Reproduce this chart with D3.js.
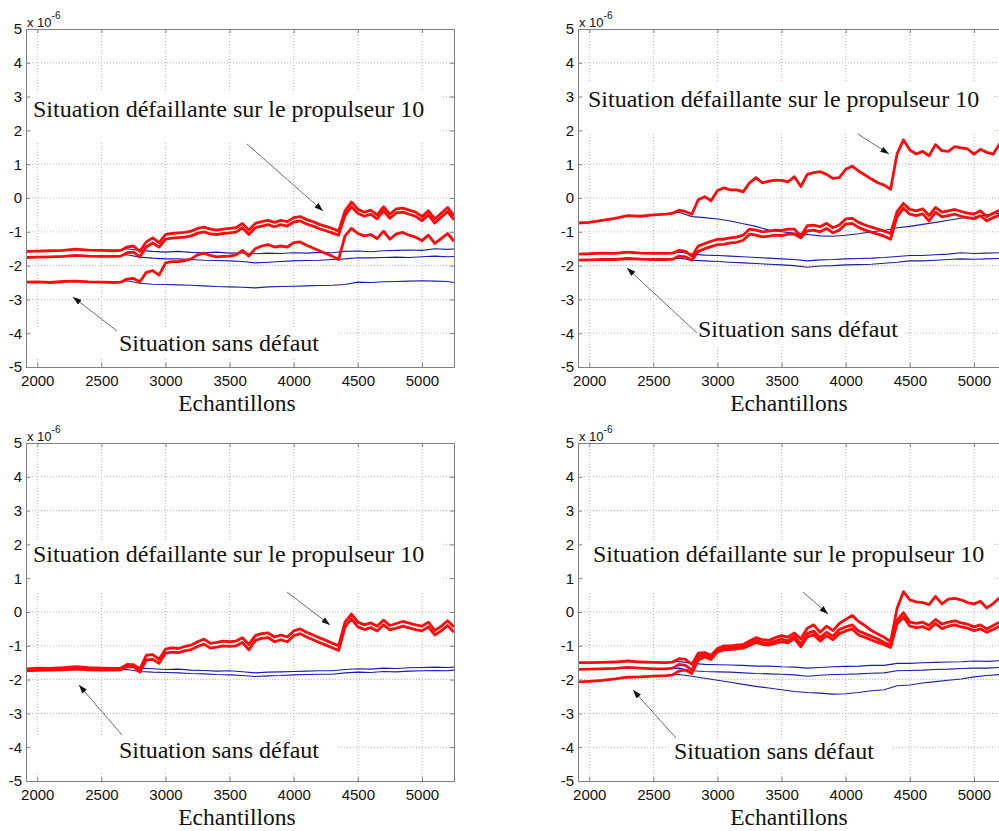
<!DOCTYPE html>
<html><head><meta charset="utf-8">
<script src="https://cdn.jsdelivr.net/npm/d3@7"></script>
<style>body{margin:0;background:#fff}svg{display:block}</style>
</head><body>
<svg id="c" width="999" height="831"></svg>
<script>
// ---------- DATA ----------
const xDomain = [1912, 5250];
const yDomain = [-5, 5];
const xTicks = [2000, 2500, 3000, 3500, 4000, 4500, 5000];
const yTicks = [-5, -4, -3, -2, -1, 0, 1, 2, 3, 4, 5];
const xLabel = "Echantillons";
const faultLabel = "Situation défaillante sur le propulseur 10";
const okLabel = "Situation sans défaut";
const exponentBase = "x 10";
const exponentPow = "-6";

const xRed = [1912,2000,2100,2200,2300,2400,2500,2600,2650,2700,2750,2800,2850,2900,2950,3000,3050,3100,3150,3200,3250,3300,3350,3400,3450,3500,3550,3600,3650,3700,3750,3800,3850,3900,3950,4000,4050,4100,4150,4200,4250,4300,4350,4400,4450,4500,4550,4600,4650,4700,4750,4800,4850,4900,4950,5000,5050,5100,5150,5200,5250];
const xBlue = [1912,2000,2100,2200,2300,2400,2500,2600,2700,2800,2900,3000,3100,3200,3300,3400,3500,3600,3700,3800,3900,4000,4100,4200,4300,4400,4500,4600,4700,4800,4900,5000,5100,5200,5250];

// Panel 1 (top-left)
const p1Red1 = [-1.58,-1.57,-1.56,-1.55,-1.51,-1.54,-1.55,-1.56,-1.55,-1.45,-1.42,-1.58,-1.30,-1.18,-1.32,-1.08,-1.05,-1.03,-1.02,-0.98,-0.90,-0.86,-0.92,-0.95,-0.92,-0.90,-0.88,-0.75,-0.95,-0.75,-0.70,-0.66,-0.72,-0.66,-0.70,-0.58,-0.55,-0.64,-0.70,-0.78,-0.84,-0.90,-0.98,-0.38,-0.12,-0.33,-0.42,-0.36,-0.50,-0.26,-0.48,-0.32,-0.30,-0.36,-0.42,-0.55,-0.38,-0.62,-0.45,-0.28,-0.52];
const p1Red2 = [-1.76,-1.75,-1.74,-1.73,-1.70,-1.72,-1.73,-1.73,-1.72,-1.62,-1.60,-1.74,-1.45,-1.33,-1.45,-1.22,-1.19,-1.17,-1.16,-1.12,-1.04,-1.00,-1.06,-1.08,-1.05,-1.03,-1.01,-0.88,-1.08,-0.88,-0.83,-0.79,-0.85,-0.79,-0.83,-0.71,-0.68,-0.77,-0.83,-0.91,-0.97,-1.03,-1.10,-0.52,-0.26,-0.45,-0.54,-0.48,-0.62,-0.38,-0.60,-0.44,-0.42,-0.48,-0.54,-0.67,-0.50,-0.74,-0.57,-0.40,-0.64];
const p1Red3 = [-2.49,-2.48,-2.50,-2.47,-2.46,-2.48,-2.49,-2.50,-2.49,-2.40,-2.38,-2.48,-2.20,-2.15,-2.28,-1.92,-1.88,-1.88,-1.85,-1.80,-1.68,-1.63,-1.70,-1.74,-1.73,-1.72,-1.68,-1.55,-1.72,-1.50,-1.42,-1.38,-1.45,-1.42,-1.45,-1.32,-1.30,-1.40,-1.48,-1.56,-1.64,-1.72,-1.82,-1.12,-0.90,-1.05,-1.12,-1.08,-1.20,-0.98,-1.22,-1.06,-1.02,-1.10,-1.16,-1.26,-1.10,-1.34,-1.20,-1.05,-1.28];
const p1Blue1 = [-1.58,-1.57,-1.56,-1.55,-1.51,-1.54,-1.55,-1.56,-1.50,-1.55,-1.58,-1.60,-1.58,-1.61,-1.62,-1.60,-1.63,-1.62,-1.65,-1.63,-1.64,-1.62,-1.63,-1.61,-1.62,-1.58,-1.57,-1.59,-1.56,-1.55,-1.54,-1.55,-1.50,-1.52,-1.51];
const p1Blue2 = [-1.76,-1.75,-1.74,-1.73,-1.70,-1.72,-1.73,-1.73,-1.68,-1.75,-1.78,-1.80,-1.80,-1.82,-1.84,-1.85,-1.86,-1.88,-1.92,-1.90,-1.88,-1.86,-1.85,-1.84,-1.82,-1.80,-1.77,-1.77,-1.76,-1.75,-1.76,-1.74,-1.72,-1.74,-1.73];
const p1Blue3 = [-2.49,-2.48,-2.50,-2.47,-2.46,-2.48,-2.49,-2.50,-2.45,-2.52,-2.55,-2.56,-2.57,-2.58,-2.60,-2.62,-2.63,-2.64,-2.66,-2.63,-2.62,-2.61,-2.60,-2.59,-2.58,-2.56,-2.49,-2.50,-2.48,-2.47,-2.46,-2.45,-2.46,-2.47,-2.50];

// Panel 2 (top-right)
const p2Red1 = [-0.74,-0.72,-0.66,-0.60,-0.52,-0.54,-0.50,-0.48,-0.45,-0.36,-0.40,-0.48,-0.05,0.04,-0.08,0.22,0.30,0.24,0.24,0.18,0.45,0.60,0.45,0.50,0.53,0.52,0.48,0.63,0.34,0.70,0.75,0.78,0.70,0.58,0.60,0.85,0.94,0.80,0.68,0.56,0.45,0.38,0.26,1.30,1.72,1.42,1.30,1.38,1.25,1.58,1.40,1.38,1.52,1.48,1.45,1.30,1.44,1.35,1.30,1.60,1.62];
const p2Red2 = [-1.66,-1.65,-1.63,-1.64,-1.60,-1.63,-1.64,-1.64,-1.63,-1.55,-1.58,-1.72,-1.42,-1.35,-1.28,-1.22,-1.22,-1.18,-1.16,-1.10,-0.92,-0.95,-1.00,-0.98,-0.95,-0.96,-0.92,-0.92,-1.12,-0.82,-0.80,-0.85,-0.75,-0.88,-0.80,-0.62,-0.60,-0.72,-0.80,-0.86,-0.92,-0.98,-1.05,-0.40,-0.16,-0.34,-0.38,-0.32,-0.52,-0.28,-0.42,-0.38,-0.34,-0.40,-0.45,-0.48,-0.38,-0.55,-0.45,-0.36,-0.32];
const p2Red3 = [-1.84,-1.83,-1.82,-1.82,-1.79,-1.81,-1.82,-1.82,-1.81,-1.72,-1.74,-1.84,-1.58,-1.50,-1.44,-1.38,-1.37,-1.33,-1.31,-1.25,-1.07,-1.10,-1.15,-1.13,-1.10,-1.11,-1.07,-1.07,-1.18,-0.97,-0.95,-1.00,-0.90,-1.03,-0.95,-0.77,-0.75,-0.87,-0.95,-1.01,-1.07,-1.13,-1.22,-0.56,-0.30,-0.48,-0.52,-0.47,-0.68,-0.42,-0.56,-0.52,-0.48,-0.54,-0.58,-0.62,-0.52,-0.68,-0.58,-0.50,-0.46];
const p2Blue1 = [-0.74,-0.72,-0.66,-0.60,-0.52,-0.54,-0.50,-0.48,-0.42,-0.55,-0.58,-0.62,-0.68,-0.76,-0.84,-0.95,-1.00,-1.04,-1.08,-1.12,-1.13,-1.10,-1.06,-1.00,-0.96,-0.88,-0.84,-0.78,-0.72,-0.66,-0.60,-0.56,-0.50,-0.45,-0.42];
const p2Blue2 = [-1.66,-1.65,-1.63,-1.64,-1.60,-1.63,-1.64,-1.64,-1.60,-1.66,-1.69,-1.70,-1.72,-1.74,-1.76,-1.78,-1.80,-1.82,-1.86,-1.83,-1.82,-1.80,-1.79,-1.78,-1.76,-1.73,-1.70,-1.70,-1.68,-1.66,-1.62,-1.64,-1.63,-1.62,-1.63];
const p2Blue3 = [-1.84,-1.83,-1.82,-1.82,-1.79,-1.81,-1.82,-1.82,-1.78,-1.84,-1.86,-1.88,-1.90,-1.92,-1.94,-1.96,-1.98,-2.00,-2.05,-2.01,-2.00,-1.98,-1.97,-1.96,-1.93,-1.90,-1.86,-1.86,-1.84,-1.82,-1.80,-1.81,-1.80,-1.79,-1.80];

// Panel 3 (bottom-left)
const p3Red1 = [-1.68,-1.66,-1.67,-1.65,-1.62,-1.65,-1.66,-1.67,-1.66,-1.55,-1.56,-1.68,-1.28,-1.26,-1.40,-1.10,-1.06,-1.08,-1.02,-0.98,-0.88,-0.80,-0.93,-0.90,-0.86,-0.88,-0.86,-0.76,-0.96,-0.70,-0.64,-0.62,-0.74,-0.68,-0.74,-0.56,-0.50,-0.60,-0.68,-0.76,-0.84,-0.92,-1.00,-0.30,-0.06,-0.30,-0.38,-0.32,-0.42,-0.24,-0.40,-0.34,-0.28,-0.33,-0.38,-0.42,-0.30,-0.55,-0.42,-0.26,-0.44];
const p3Red2 = [-1.74,-1.73,-1.72,-1.71,-1.69,-1.71,-1.72,-1.72,-1.71,-1.62,-1.62,-1.78,-1.42,-1.40,-1.52,-1.22,-1.19,-1.20,-1.15,-1.11,-1.02,-0.95,-1.07,-1.04,-1.00,-1.02,-1.00,-0.90,-1.12,-0.84,-0.78,-0.76,-0.88,-0.82,-0.88,-0.70,-0.64,-0.74,-0.82,-0.90,-0.98,-1.06,-1.14,-0.45,-0.20,-0.44,-0.52,-0.46,-0.56,-0.38,-0.53,-0.48,-0.42,-0.47,-0.52,-0.56,-0.44,-0.68,-0.56,-0.40,-0.60];
const p3Blue1 = [-1.68,-1.66,-1.67,-1.65,-1.62,-1.65,-1.66,-1.67,-1.62,-1.66,-1.68,-1.70,-1.69,-1.72,-1.73,-1.75,-1.74,-1.77,-1.80,-1.78,-1.77,-1.76,-1.75,-1.74,-1.74,-1.70,-1.68,-1.69,-1.66,-1.67,-1.65,-1.64,-1.63,-1.64,-1.63];
const p3Blue2 = [-1.74,-1.73,-1.72,-1.71,-1.69,-1.71,-1.72,-1.72,-1.70,-1.76,-1.78,-1.79,-1.80,-1.82,-1.83,-1.85,-1.86,-1.88,-1.91,-1.89,-1.88,-1.86,-1.85,-1.84,-1.84,-1.80,-1.78,-1.79,-1.76,-1.77,-1.75,-1.74,-1.73,-1.74,-1.72];

// Panel 4 (bottom-right)
const p4Red1 = [-1.50,-1.50,-1.49,-1.48,-1.45,-1.48,-1.49,-1.50,-1.48,-1.38,-1.40,-1.55,-1.22,-1.20,-1.28,-1.08,-1.00,-1.00,-0.98,-0.96,-0.86,-0.76,-0.82,-0.84,-0.76,-0.70,-0.74,-0.62,-0.80,-0.48,-0.38,-0.60,-0.42,-0.55,-0.34,-0.22,-0.10,-0.28,-0.40,-0.55,-0.65,-0.75,-0.88,0.10,0.60,0.36,0.30,0.28,0.22,0.46,0.24,0.38,0.40,0.36,0.28,0.24,0.32,0.12,0.25,0.42,0.40];
const p4Red2 = [-1.70,-1.69,-1.68,-1.67,-1.64,-1.66,-1.68,-1.68,-1.66,-1.55,-1.58,-1.72,-1.32,-1.26,-1.35,-1.14,-1.06,-1.06,-1.04,-1.02,-0.94,-0.84,-0.90,-0.92,-0.86,-0.80,-0.85,-0.72,-0.95,-0.64,-0.56,-0.76,-0.60,-0.72,-0.52,-0.44,-0.38,-0.56,-0.64,-0.72,-0.80,-0.90,-0.98,-0.25,-0.02,-0.30,-0.34,-0.30,-0.40,-0.22,-0.36,-0.30,-0.26,-0.32,-0.36,-0.44,-0.38,-0.50,-0.40,-0.30,-0.28];
const p4Red3 = [-2.07,-2.05,-2.02,-1.98,-1.93,-1.92,-1.90,-1.88,-1.86,-1.74,-1.72,-1.82,-1.42,-1.33,-1.40,-1.18,-1.12,-1.11,-1.09,-1.07,-0.99,-0.90,-0.96,-0.98,-0.93,-0.88,-0.91,-0.78,-1.03,-0.74,-0.67,-0.86,-0.70,-0.82,-0.64,-0.56,-0.50,-0.68,-0.75,-0.83,-0.90,-0.97,-1.05,-0.36,-0.15,-0.42,-0.46,-0.43,-0.52,-0.34,-0.49,-0.42,-0.38,-0.44,-0.48,-0.55,-0.50,-0.60,-0.52,-0.42,-0.40];
const p4Blue1 = [-1.50,-1.50,-1.49,-1.48,-1.45,-1.48,-1.49,-1.50,-1.46,-1.52,-1.55,-1.56,-1.57,-1.58,-1.60,-1.60,-1.62,-1.63,-1.66,-1.64,-1.62,-1.61,-1.60,-1.58,-1.58,-1.52,-1.52,-1.50,-1.49,-1.48,-1.47,-1.45,-1.46,-1.44,-1.45];
const p4Blue2 = [-1.70,-1.69,-1.68,-1.67,-1.64,-1.66,-1.68,-1.68,-1.66,-1.74,-1.76,-1.77,-1.78,-1.80,-1.82,-1.83,-1.84,-1.86,-1.90,-1.87,-1.85,-1.84,-1.83,-1.81,-1.80,-1.74,-1.73,-1.72,-1.70,-1.69,-1.67,-1.66,-1.66,-1.64,-1.65];
const p4Blue3 = [-2.07,-2.05,-2.02,-1.98,-1.93,-1.92,-1.90,-1.88,-1.85,-1.90,-1.96,-2.02,-2.08,-2.14,-2.20,-2.25,-2.30,-2.35,-2.38,-2.40,-2.43,-2.42,-2.38,-2.33,-2.30,-2.18,-2.16,-2.10,-2.06,-2.02,-1.98,-1.92,-1.88,-1.85,-1.84];

// ---------- LAYOUT ----------
const W = 428, H = 338;
const panels = [
  {left: 26, top: 29, red: [p1Red1, p1Red2, p1Red3], blue: [p1Blue1, p1Blue2, p1Blue3],
   fault: {tx: 7, ty: 88, box: [4, 61, 417, 114], arrow: [221, 115, 297, 182]},
   ok: {tx: 93, ty: 322, box: [4, 299, 311, 328], arrow: [91, 302, 47, 268]}},
  {left: 578, top: 29, red: [p2Red1, p2Red2, p2Red3], blue: [p2Blue1, p2Blue2, p2Blue3],
   fault: {tx: 10, ty: 78, box: [5, 54, 415, 104], arrow: [280, 105, 311, 125]},
   ok: {tx: 120, ty: 308, box: [116, 286, 327, 316], arrow: [119, 304, 49, 239]}},
  {left: 26, top: 443, red: [p3Red1, p3Red2], blue: [p3Blue1, p3Blue2],
   fault: {tx: 7, ty: 119, box: [4, 98, 417, 148], arrow: [261, 149, 304, 182]},
   ok: {tx: 93, ty: 315, box: [4, 294, 311, 329], arrow: [96, 292, 53, 242]}},
  {left: 578, top: 443, red: [p4Red1, p4Red2, p4Red3], blue: [p4Blue1, p4Blue2, p4Blue3],
   fault: {tx: 15, ty: 119, box: [5, 98, 415, 148], arrow: [225, 149, 250, 171]},
   ok: {tx: 96, ty: 316, box: [92, 295, 314, 329], arrow: [98, 295, 55, 247]}}
];

const svg = d3.select("#c");
const defs = svg.append("defs");
defs.append("marker").attr("id", "ah").attr("viewBox", "0 0 10 7")
  .attr("refX", 10).attr("refY", 3.5).attr("markerWidth", 9).attr("markerHeight", 6)
  .attr("markerUnits", "userSpaceOnUse").attr("orient", "auto")
  .append("path").attr("d", "M0,0 L10,3.5 L0,7 Z").attr("fill", "#111");

const sans = "'Liberation Sans', Arial, Helvetica, sans-serif";
const serif = "'Liberation Serif', 'Times New Roman', serif";
const axisColor = "#808080";
const fmt = d => String(d);

panels.forEach((p, i) => {
  const g = svg.append("g").attr("transform", `translate(${p.left},${p.top})`);
  const x = d3.scaleLinear().domain(xDomain).range([0, W]);
  const y = d3.scaleLinear().domain(yDomain).range([H, 0]);

  defs.append("clipPath").attr("id", "clip" + i).append("rect")
    .attr("x", 0).attr("y", 0).attr("width", W).attr("height", H);

  // grid
  const grid = g.append("g");
  grid.selectAll("line.gx").data(xTicks).join("line")
    .attr("x1", d => x(d)).attr("x2", d => x(d)).attr("y1", 0).attr("y2", H)
    .attr("stroke", "#b4b4b4").attr("stroke-dasharray", "1,2").attr("stroke-width", 1);
  grid.selectAll("line.gy").data(yTicks.slice(1, -1)).join("line")
    .attr("class", "gy")
    .attr("x1", 0).attr("x2", W).attr("y1", d => y(d)).attr("y2", d => y(d))
    .attr("stroke", "#b4b4b4").attr("stroke-dasharray", "1,2").attr("stroke-width", 1);

  // white label boxes
  [p.fault, p.ok].forEach(a => {
    g.append("rect").attr("x", a.box[0]).attr("y", a.box[1])
      .attr("width", a.box[2] - a.box[0]).attr("height", a.box[3] - a.box[1])
      .attr("fill", "#fff");
  });

  // data
  const data = g.append("g").attr("clip-path", `url(#clip${i})`);
  const lineB = d3.line().x((d, k) => x(xBlue[k])).y(d => y(d));
  const lineR = d3.line().x((d, k) => x(xRed[k])).y(d => y(d));
  p.blue.forEach(s => data.append("path").attr("d", lineB(s))
    .attr("fill", "none").attr("stroke", "#1c1ca8").attr("stroke-width", 1.1));
  p.red.forEach(s => data.append("path").attr("d", lineR(s))
    .attr("fill", "none").attr("stroke", "#ff0a0a").attr("stroke-width", 2.8)
    .attr("stroke-linejoin", "round"));

  // axes
  const ax = g.append("g").attr("transform", `translate(0,${H})`)
    .call(d3.axisBottom(x).tickValues(xTicks).tickSize(-4).tickPadding(8).tickFormat(fmt));
  const ay = g.append("g")
    .call(d3.axisLeft(y).tickValues(yTicks).tickSize(-4).tickPadding(4).tickFormat(fmt));
  const axt = g.append("g").call(d3.axisTop(x).tickValues(xTicks).tickSize(-4).tickFormat(""));
  const ayr = g.append("g").attr("transform", `translate(${W},0)`)
    .call(d3.axisRight(y).tickValues(yTicks).tickSize(-4).tickFormat(""));
  [ax, ay, axt, ayr].forEach(a => {
    a.select(".domain").attr("stroke", axisColor);
    a.selectAll(".tick line").attr("stroke", axisColor);
    a.selectAll("text").attr("font-family", sans).attr("font-size", 15).attr("fill", "#111");
  });
  ax.selectAll("text").attr("dy", "0.71em");

  // exponent
  const ex = g.append("text").attr("x", 1).attr("y", -2)
    .attr("font-family", sans).attr("font-size", 13).attr("fill", "#111");
  ex.append("tspan").text(exponentBase);
  ex.append("tspan").attr("dy", -8).attr("font-size", 10).text(exponentPow);

  // x label
  g.append("text").attr("x", W / 2 - 3).attr("y", H + 44).attr("text-anchor", "middle")
    .attr("font-family", serif).attr("font-size", 23.5).attr("fill", "#111").text(xLabel);

  // annotations
  [[p.fault, faultLabel], [p.ok, okLabel]].forEach(([a, t]) => {
    g.append("text").attr("x", a.tx).attr("y", a.ty)
      .attr("font-family", serif).attr("font-size", 24).attr("fill", "#111").text(t);
    g.append("line").attr("x1", a.arrow[0]).attr("y1", a.arrow[1])
      .attr("x2", a.arrow[2]).attr("y2", a.arrow[3])
      .attr("stroke", "#444").attr("stroke-width", 0.8).attr("marker-end", "url(#ah)");
  });
});
</script>
</body></html>
